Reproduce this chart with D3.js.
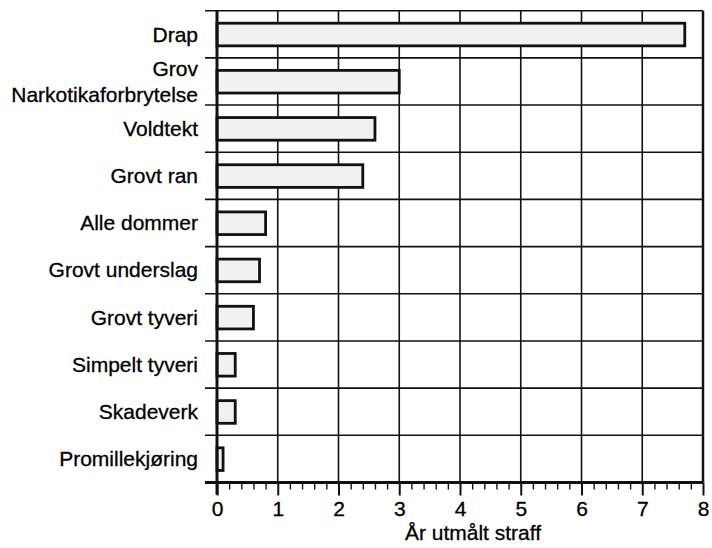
<!DOCTYPE html>
<html>
<head>
<meta charset="utf-8">
<script src="https://cdn.jsdelivr.net/npm/d3@7"></script>
<style>
  html, body { margin: 0; padding: 0; background: #fff; }
  svg { display: block; }
  text { font-family: "Liberation Sans", Arial, Helvetica, sans-serif; fill: #000; stroke: #000; stroke-width: 0.3px; }
</style>
</head>
<body>
<svg id="chart" width="712" height="548"></svg>
<script>
const categories = ["Drap", "Grov\nNarkotikaforbrytelse", "Voldtekt", "Grovt ran", "Alle dommer",
  "Grovt underslag", "Grovt tyveri", "Simpelt tyveri", "Skadeverk", "Promillekjøring"];
const values = [7.7, 3.0, 2.6, 2.4, 0.8, 0.7, 0.6, 0.3, 0.3, 0.1];
const xTicks = [0, 1, 2, 3, 4, 5, 6, 7, 8];
const xTitle = "År utmålt straff";

const svg = d3.select("#chart");
const mLeft = 217, mRight = 703, mTop = 10.7, mBottom = 482.5;
const x = d3.scaleLinear().domain([0, 8]).range([mLeft, mRight]);
const y = d3.scaleBand().domain(categories).range([mTop, mBottom]).padding(0);
const bw = y.bandwidth();

// vertical gridlines
svg.append("g").selectAll("line").data(xTicks.filter(t => t > 0 && t < 8)).join("line")
  .attr("x1", d => x(d)).attr("x2", d => x(d)).attr("y1", mTop).attr("y2", mBottom)
  .attr("stroke", "#111").attr("stroke-width", 1.6);

// horizontal band boundaries (extend left as ticks)
const bounds = categories.map(c => y(c)).concat([mBottom]);
svg.append("g").selectAll("line").data(bounds.slice(1, -1)).join("line")
  .attr("x1", mLeft - 12).attr("x2", mRight).attr("y1", d => d).attr("y2", d => d)
  .attr("stroke", "#111").attr("stroke-width", 1.6);
// top border
svg.append("line").attr("x1", mLeft - 12).attr("x2", mRight).attr("y1", mTop).attr("y2", mTop)
  .attr("stroke", "#111").attr("stroke-width", 1.6);
// right border
svg.append("line").attr("x1", mRight).attr("x2", mRight).attr("y1", mTop).attr("y2", mBottom)
  .attr("stroke", "#111").attr("stroke-width", 2.5);

// bars
svg.append("g").selectAll("rect").data(categories).join("rect")
  .attr("x", x(0))
  .attr("y", (d) => y(d) + bw * 0.265)
  .attr("width", (d, i) => x(values[i]) - x(0))
  .attr("height", bw * 0.48)
  .attr("fill", "#f1f1f1").attr("stroke", "#111").attr("stroke-width", 2.8);

// left axis line
svg.append("line").attr("x1", mLeft).attr("x2", mLeft).attr("y1", mTop).attr("y2", mBottom + 12)
  .attr("stroke", "#111").attr("stroke-width", 3);

// bottom axis: major
const gx = svg.append("g").attr("transform", `translate(0,${mBottom})`)
  .call(d3.axisBottom(x).tickValues(xTicks).tickSize(13).tickPadding(6).tickFormat(d3.format("d")));
gx.select(".domain").attr("stroke", "#111").attr("stroke-width", 3).attr("d", `M${mLeft - 12},0H${mRight}`);
gx.selectAll(".tick line").attr("stroke", "#111").attr("stroke-width", 2);
gx.selectAll(".tick text").attr("font-size", 21).attr("fill", "#000")
  .style("font-family", '"Liberation Sans", Arial, sans-serif');

// minor ticks
const minor = d3.range(0, 8.001, 0.2).filter(v => Math.abs(v - Math.round(v)) > 0.01);
svg.append("g").attr("transform", `translate(0,${mBottom})`)
  .call(d3.axisBottom(x).tickValues(minor).tickSize(7).tickFormat(""))
  .call(g => g.select(".domain").remove())
  .selectAll(".tick line").attr("stroke", "#111").attr("stroke-width", 1.4);

// category labels
const lab = svg.append("g");
categories.forEach(c => {
  const lines = c.split("\n");
  const cy = y(c) + bw / 2;
  const lh = 26.5;
  const t = lab.append("text").attr("text-anchor", "end").attr("font-size", 21);
  lines.forEach((ln, k) => {
    t.append("tspan").attr("x", 198)
      .attr("y", cy + 7.3 + (k - (lines.length - 1) / 2) * lh)
      .text(ln);
  });
});

// axis title
svg.append("text").attr("x", 473).attr("y", 540).attr("text-anchor", "middle")
  .attr("font-size", 21).text(xTitle);
</script>
</body>
</html>
